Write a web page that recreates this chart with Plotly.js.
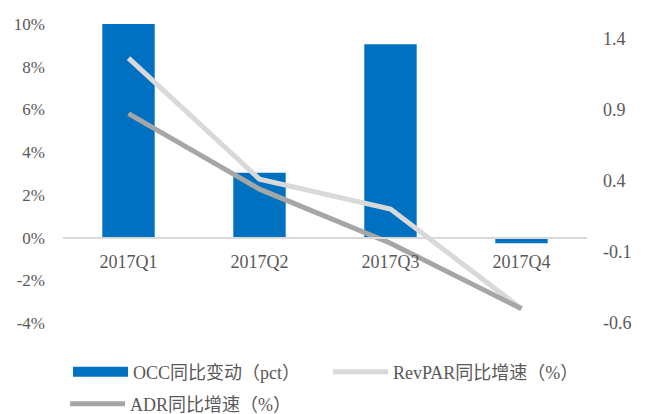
<!DOCTYPE html>
<html>
<head>
<meta charset="utf-8">
<script src="https://cdn.plot.ly/plotly-3.0.1.min.js"></script>
<style>html,body{margin:0;padding:0;background:#fff;}#chart{width:645px;height:414px;}</style>
</head>
<body>
<div id="chart"></div>
<script>
// ---- data ----
var categories = ["2017Q1", "2017Q2", "2017Q3", "2017Q4"];
var occChange = [0.1002, 0.0304, 0.0905, -0.0027];   // OCC同比变动(pct), left axis
var revparGrowth = [1.26, 0.41, 0.20, -0.50];        // RevPAR同比增速(%), right axis
var adrGrowth = [0.87, 0.34, -0.04, -0.50];          // ADR同比增速(%), right axis
var leftTicks = [-0.04, -0.02, 0, 0.02, 0.04, 0.06, 0.08, 0.10];
var leftTickText = ["-4%", "-2%", "0%", "2%", "4%", "6%", "8%", "10%"];
var rightTicks = [-0.6, -0.1, 0.4, 0.9, 1.4];
var rightTickText = ["-0.6", "-0.1", "0.4", "0.9", "1.4"];

var FONT = 'Liberation Serif, Noto Sans CJK SC, serif';
var TXT = '#595959';
var leftRange = [-0.04, 0.10];
var rightRange = [-0.6, 1.5];
var zeroPos = (0 - leftRange[0]) / (leftRange[1] - leftRange[0]);

function legendBox(x, y) {
  return {
    orientation: 'h', x: x, xref: 'paper', xanchor: 'left',
    y: y, yref: 'container', yanchor: 'middle',
    itemwidth: 55,
    font: {family: FONT, size: 18, color: TXT}, bgcolor: 'rgba(0,0,0,0)'
  };
}

var traces = [
  {type: 'bar', x: categories, y: occChange, name: 'OCC同比变动（pct）',
   marker: {color: '#0070C0'}, width: 0.4, yaxis: 'y', showlegend: false},
  {type: 'scatter', mode: 'lines', x: [categories[0]], y: [null], name: 'OCC同比变动（pct）',
   line: {color: '#0070C0', width: 11}, yaxis: 'y', legend: 'legend', hoverinfo: 'skip'},
  {type: 'scatter', mode: 'lines', x: categories, y: revparGrowth, name: 'RevPAR同比增速（%）',
   line: {color: '#D9D9D9', width: 5}, yaxis: 'y2', legend: 'legend3'},
  {type: 'scatter', mode: 'lines', x: categories, y: adrGrowth, name: 'ADR同比增速（%）',
   line: {color: '#A6A6A6', width: 5}, yaxis: 'y2', legend: 'legend2'}
];

var layout = {
  width: 645, height: 414,
  margin: {l: 63, r: 58, t: 24, b: 91},
  paper_bgcolor: '#fff', plot_bgcolor: '#fff',
  font: {family: FONT, size: 18, color: TXT},
  showlegend: true,
  xaxis: {
    type: 'category', range: [-0.5, 3.5],
    anchor: 'free', position: zeroPos,
    showline: true, linecolor: '#D9D9D9', linewidth: 2,
    showgrid: false, zeroline: false, ticks: '',
    ticklabelstandoff: 8,
    tickfont: {family: FONT, size: 18, color: TXT}
  },
  yaxis: {
    range: leftRange, tickvals: leftTicks, ticktext: leftTickText,
    showgrid: false, zeroline: false, showline: false, ticks: '',
    ticklabelstandoff: 17,
    tickfont: {family: FONT, size: 17, color: TXT}
  },
  yaxis2: {
    range: rightRange, tickvals: rightTicks, ticktext: rightTickText,
    overlaying: 'y', side: 'right',
    showgrid: false, zeroline: false, showline: false, ticks: '',
    ticklabelstandoff: 15,
    tickfont: {family: FONT, size: 18, color: TXT}
  },
  legend: legendBox(0.0095, 1 - 372 / 414),
  legend3: legendBox((328 - 63) / 524, 1 - 372 / 414),
  legend2: legendBox(0.004, 1 - 404 / 414)
};

Plotly.newPlot('chart', traces, layout, {displayModeBar: false, staticPlot: true});
</script>
</body>
</html>
